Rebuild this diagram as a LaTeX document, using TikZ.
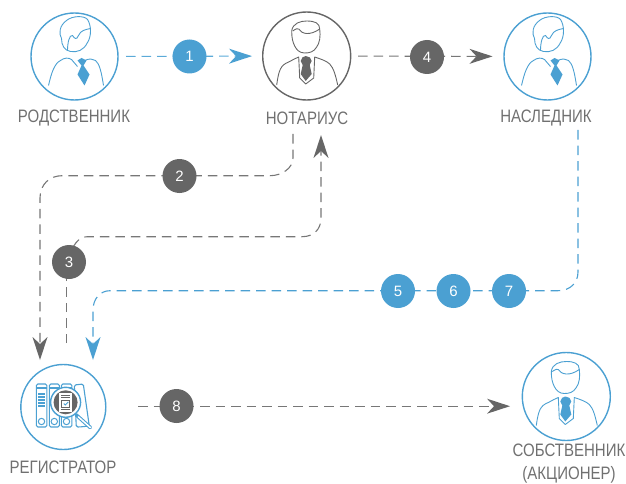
\documentclass[tikz,border=0pt]{standalone}
\usepackage{fontspec}
\setmainfont{Liberation Sans}
\newfontfamily\lblfont[FakeStretch=0.835]{Liberation Sans}
\usetikzlibrary{arrows.meta}
\definecolor{bluec}{HTML}{4BA0D2}
\definecolor{greyc}{HTML}{666666}
\definecolor{lblc}{HTML}{707070}
\definecolor{dashg}{HTML}{777777}
\definecolor{dashb}{HTML}{5BAAD8}
\tikzset{
 x=1pt,y=-1pt,
 ring/.style={circle,draw=#1,line width=1.4pt,minimum size=87pt,inner sep=0pt,outer sep=0pt},
 badge/.style={circle,fill=#1,text=white,minimum size=34pt,inner sep=0pt,font=\fontsize{15}{15}\selectfont},
 lbl/.style={text=lblc,font=\lblfont\fontsize{18}{23}\selectfont,align=center,inner sep=0pt},
 flow/.style 2 args={draw=#1,line width=1.1pt,dash pattern=on 9.5pt off 6pt,
   -{Stealth[length=23pt,width=15pt,inset=7pt,color=#2,fill=#2,line width=0pt]}},
 flowplain/.style={draw=#1,line width=1.1pt,dash pattern=on 9.5pt off 6pt},
 pics/headA/.style={code={
  \draw[draw=#1,line width=.9pt,line join=round]
   (-8,-36) .. controls (-2,-41) and (10,-41) .. (13,-37)
   .. controls (17,-31) and (17,-20) .. (13,-14)
   .. controls (9,-6) and (3,-4) .. (-4,-5)
   .. controls (-10,-6) and (-13,-11) .. (-13,-18)
   .. controls (-16,-23) and (-15,-31) .. (-8,-36) -- cycle;
  \draw[draw=#1,line width=.9pt]
   (-7,-6) .. controls (-7,-14) and (-5,-22) .. (-2,-21)
   .. controls (0,-18) and (2,-16) .. (4,-21)
   .. controls (6,-26) and (11,-27) .. (16,-28);
  \draw[draw=#1,line width=.9pt]
   (-26,29) .. controls (-23,16) and (-20,7) .. (-14,4)
   .. controls (-10,1) and (-6,1) .. (-3,3) -- (3,10);
  \draw[draw=#1,line width=.9pt]
   (29,29) .. controls (27,16) and (25,7) .. (21,4)
   .. controls (18,2) and (15,2) .. (10,4);
  \fill[#1] (3,4) -- (7,1.5) -- (12,4) -- (9,9) -- (15,18) -- (10,29) -- (3,18) -- (7,9) -- cycle;
 }},
 pics/headB/.style={code={
  \draw[draw=#1,line width=.9pt,line join=round]
   (-15,-25) .. controls (-14,-33) and (-6,-35) .. (0,-35)
   .. controls (8,-35) and (13,-33) .. (13,-27)
   .. controls (14,-20) and (13,-13) .. (10,-9)
   .. controls (7,-4) and (3,-3) .. (-2,-3)
   .. controls (-7,-3) and (-10,-6) .. (-12,-10)
   .. controls (-14,-14) and (-15,-18) .. (-15,-25) -- cycle;
  \draw[draw=#1,line width=.9pt]
   (-14,-25) .. controls (-11,-27) and (-9,-28) .. (-8,-27)
   .. controls (-5,-22) and (3,-20) .. (13,-27);
  \draw[draw=#1,line width=.9pt,line join=round]
   (-30,29) .. controls (-28,14) and (-26,9) .. (-18,6)
   .. controls (-14,4) and (-11,2) .. (-8,1)
   -- (-7,22) -- (-1,28) -- (7,22) -- (8,1)
   .. controls (14,3) and (20,5) .. (23,8)
   .. controls (27,12) and (29,20) .. (31,29);
  \fill[#1] (-1,0) .. controls (2,0) and (5,2) .. (5,5) -- (3,9) -- (5,18) -- (-1,25) -- (-6,18) -- (-4,9) -- (-6,5) .. controls (-6,2) and (-3,0) .. (-1,0) -- cycle;
 }},
 pics/reg/.style={code={
  \begin{scope}[draw=bluec,line width=1.1pt,rounded corners=1.5pt]
   \draw (-27,-23) rectangle (-16.5,20);
   \draw (-14,-23) rectangle (-4,20);
   \draw (-2,-23) rectangle (8.5,20);
   \draw (11,-22) -- (20,-23) -- (26,19) -- (16,20) -- (13,20) -- cycle;
   \draw (-27,-19) -- (-16.5,-19) (-14,-19) -- (-4,-19) (-2,-19) -- (8.5,-19);
   \draw (-25,-13) -- (-18.5,-13) (-25,-10) -- (-18.5,-10) (-25,-7) -- (-18.5,-7) (-25,-4) -- (-18.5,-4) (-25,-1) -- (-18.5,-1);
  \end{scope}
  \draw[bluec,line width=1pt] (-21.8,14.5) circle (3.2) (-9,14.5) circle (3.2) (3.2,14.5) circle (3.2);
  \draw[bluec,line width=3.6pt,line cap=round] (13,8) -- (27,20.5);
  \draw[white,line width=1.5pt,line cap=round] (15,9.8) -- (27,20.5);
  \fill[white] (2.3,-4.7) circle (15);
  \draw[bluec,line width=1.4pt] (2.3,-4.7) circle (15);
  \fill[greyc] (2.3,-4.7) circle (12);
  \fill[white] (-4,-14) rectangle (9,5);
  \draw[greyc,line width=.7pt] (-2,-11.5) -- (7,-11.5) (-2,-9.5) -- (7,-9.5) (-2,2.5) -- (7,2.5);
  \draw[greyc,line width=.9pt] (-1.5,-7) rectangle (6.5,0.5);
  \draw[bluec,line width=.9pt] (0.5,-3.5) -- (2,-2) -- (5,-5);
 }},
}
\begin{document}
\begin{tikzpicture}
\useasboundingbox (0,0) rectangle (626,484);
% rings
\node[ring=bluec] (rod) at (74.5,56.5) {};
\node[ring=greyc,minimum size=88pt] (not) at (306.7,56) {};
\node[ring=bluec] (nas) at (547.5,56.5) {};
\node[ring=bluec,minimum size=85pt] (reg) at (63.3,407) {};
\node[ring=bluec,minimum size=88pt] (sob) at (566.3,396.5) {};
% icons
\pic at (rod) {headA=bluec};
\pic at (nas) {headA=bluec};
\pic at (not) {headB=greyc};
\pic at (sob) {headB=bluec};
\pic at (reg) {reg};
% labels
\node[lbl] (lrod) at (74,118) {РОДСТВЕННИК};
\node[lbl] (lnot) at (307,118) {НОТАРИУС};
\node[lbl] (lnas) at (546,118) {НАСЛЕДНИК};
\node[lbl] (lreg) at (63,467) {РЕГИСТРАТОР};
\node[lbl] (lsob) at (569,464) {СОБСТВЕННИК\\(АКЦИОНЕР)};
% free ends
\coordinate (c2a) at (293,134);
\coordinate (c2e) at (40,360);
\coordinate (c3a) at (66.7,343);
\coordinate (c3b) at (73,247);
\coordinate (c3e) at (321,135);
\coordinate (c5a) at (578,130);
\coordinate (c5e) at (93,360);
\coordinate (c8a) at (138,406.2);
\coordinate (c8e) at (510,406.2);
% connectors
\draw[flow={dashb}{bluec},shorten <=8pt,shorten >=10.7pt] (rod) -- (not);
\draw[flow={dashg}{greyc},shorten <=7.3pt,shorten >=11.5pt] (not) -- (nas);
\draw[flow={dashg}{greyc}] (c2a) -- (293,158) .. controls (293,168) and (282,175.7) .. (270,175.7)
  -- (62,175.7) .. controls (50,175.7) and (40,184) .. (40,198) -- (c2e);
\draw[flowplain=dashg,line width=1pt] (c3a) -- (66.7,275);
\draw[flow={dashg}{greyc}] (c3b) .. controls (77,241) and (80,236.7) .. (88,236.7) -- (302,236.7)
  .. controls (313,236.7) and (321,230) .. (321,218) -- (c3e);
\draw[flow={bluec}{bluec}] (c5a) -- (578,272) .. controls (578,283) and (570,290.7) .. (558,290.7)
  -- (110,290.7) .. controls (100,290.7) and (93,299) .. (93,310) -- (c5e);
\draw[flow={dashg}{greyc}] (c8a) -- (c8e);
% badges
\node[badge=bluec] (b1) at (189.5,56.5) {1};
\node[badge=greyc] (b4) at (427,57) {4};
\node[badge=greyc] (b2) at (179.5,176) {2};
\node[badge=greyc] (b3) at (69,262) {3};
\node[badge=bluec] (b5) at (398,291) {5};
\node[badge=bluec] (b6) at (453.5,291) {6};
\node[badge=bluec] (b7) at (509,291) {7};
\node[badge=greyc] (b8) at (176.5,406) {8};
\end{tikzpicture}
\end{document}
